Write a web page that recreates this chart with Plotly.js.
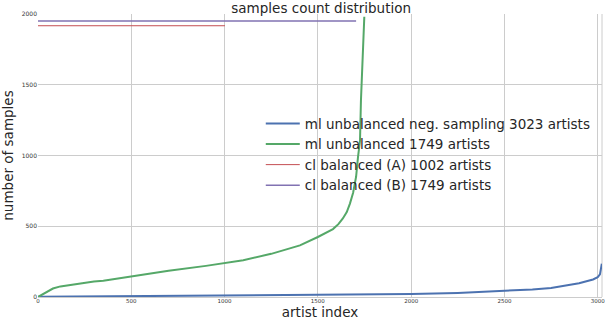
<!DOCTYPE html>
<html>
<head>
<meta charset="utf-8">
<script src="https://cdn.plot.ly/plotly-3.0.1.min.js"></script>
<style>html,body{margin:0;padding:0;background:#fff}#chart{width:606px;height:320px}</style>
</head>
<body>
<div id="chart"></div>
<script>
// ml unbalanced neg. sampling (3023 artists) - sorted sample counts
const blueX = [0, 200, 500, 1000, 1500, 2000, 2250, 2500, 2650, 2750, 2835, 2900, 2975, 3000, 3012, 3018, 3022];
const blueY = [1, 3, 6, 9, 12, 21, 29, 41, 53, 63, 80, 97, 124, 140, 160, 195, 235];
// ml unbalanced (1749 artists)
const greenX = [0, 20, 50, 80, 120, 190, 300, 350, 440, 500, 700, 900, 1000, 1100, 1250, 1404, 1500, 1581, 1610, 1634, 1655, 1672, 1689, 1705, 1715, 1726, 1731, 1742, 1749];
const greenY = [0, 15, 40, 60, 75, 90, 110, 115, 134, 145, 185, 220, 240, 260, 305, 365, 424, 480, 515, 555, 600, 660, 737, 850, 986, 1106, 1390, 1747, 1980];
// cl balanced (A) 1002 artists
const redX = [0, 1002];
const redY = [1917, 1917];
// cl balanced (B) 1749 artists
const purpleX = [0, 1705];
const purpleY = [1951, 1951];

const names = [
  'ml unbalanced neg. sampling 3023 artists',
  'ml unbalanced 1749 artists',
  'cl balanced (A) 1002 artists',
  'cl balanced (B) 1749 artists'
];
const xTicks = [0, 500, 1000, 1500, 2000, 2500, 3000];
const yTicks = [0, 500, 1000, 1500, 2000];

const traces = [
  {x: blueX, y: blueY, name: names[0], mode: 'lines', line: {color: '#4C72B0', width: 2}},
  {x: greenX, y: greenY, name: names[1], mode: 'lines', line: {color: '#55A868', width: 2}},
  {x: redX, y: redY, name: names[2], mode: 'lines', line: {color: '#C44E52', width: 1}},
  {x: purpleX, y: purpleY, name: names[3], mode: 'lines', line: {color: '#8172B2', width: 1.5}}
];

const layout = {
  width: 606, height: 320,
  margin: {l: 38, r: 4, t: 14, b: 23},
  paper_bgcolor: '#ffffff', plot_bgcolor: '#ffffff',
  font: {family: 'DejaVu Sans', color: '#262626'},
  title: {text: 'samples count distribution', font: {size: 13.5, color: '#262626'}, x: 0.53, xanchor: 'center', y: 0.975, yanchor: 'middle', yref: 'container'},
  xaxis: {
    range: [0, 3023], tickvals: xTicks, ticktext: xTicks.map(String),
    showgrid: true, gridcolor: '#cccccc', gridwidth: 1, zeroline: false,
    showline: true, linecolor: '#cccccc', linewidth: 1, ticks: '',
    tickfont: {size: 5.5, color: '#333333'}, ticklabelstandoff: -2,
    title: {text: 'artist index', font: {size: 13.5, color: '#262626'}, standoff: 5},
    automargin: false
  },
  yaxis: {
    range: [0, 2000], tickvals: yTicks, ticktext: yTicks.map(String),
    showgrid: true, gridcolor: '#cccccc', gridwidth: 1, zeroline: false,
    showline: false, ticks: '',
    tickfont: {size: 6, color: '#333333'},
    title: {text: 'number of samples', font: {size: 13.5, color: '#262626'}, standoff: 4},
    automargin: false
  },
  legend: {
    x: 0.395, y: 0.667, xanchor: 'left', yanchor: 'top',
    bgcolor: 'rgba(0,0,0,0)', borderwidth: 0,
    font: {size: 13.5, color: '#262626'},
    itemwidth: 34, tracegroupgap: 0
  },
  shapes: [
    {type: 'line', xref: 'paper', yref: 'paper', x0: 1, x1: 1, y0: 0, y1: 1, line: {color: '#cccccc', width: 1}, layer: 'below'}
  ],
  showlegend: true
};

Plotly.newPlot('chart', traces, layout, {displayModeBar: false, staticPlot: true});
</script>
</body>
</html>
